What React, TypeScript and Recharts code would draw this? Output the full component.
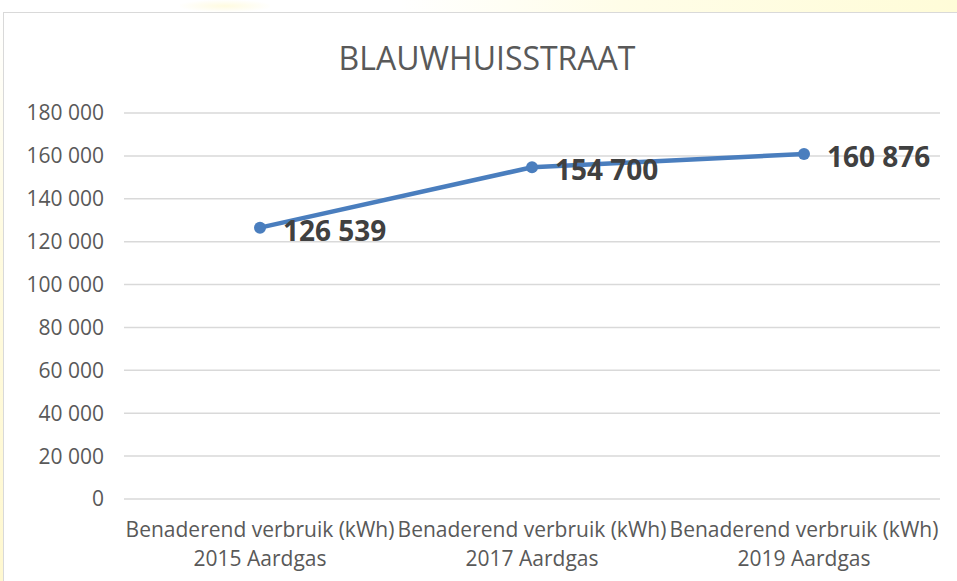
import { LineChart, Line, XAxis, YAxis, CartesianGrid, LabelList } from "recharts";

const categories = ["2015", "2017", "2019"];
const labelTop = [
  "Benaderend verbruik (kWh)",
  "Benaderend verbruik (kWh)",
  "Benaderend verbruik (kWh)",
];
const labelBottom = ["2015 Aardgas", "2017 Aardgas", "2019 Aardgas"];
const verbruik = [126539, 154700, 160876];
const yTicks = [0, 20000, 40000, 60000, 80000, 100000, 120000, 140000, 160000, 180000];

const data = categories.map((c, i) => ({
  cat: c,
  top: labelTop[i],
  bottom: labelBottom[i],
  value: verbruik[i],
}));

const font = "'Open Sans', 'DejaVu Sans', sans-serif";
const fmt = (n: number) => String(n).replace(/\B(?=(\d{3})+(?!\d))/g, " ");

const XTick = (props: any) => {
  const { x, y, index } = props;
  return (
    <text x={x} y={y} textAnchor="middle" fill="#595959" fontSize={21} fontFamily={font}>
      <tspan x={x} dy={30}>{labelTop[index]}</tspan>
      <tspan x={x} dy={29}>{labelBottom[index]}</tspan>
    </text>
  );
};

const ValueLabel = (props: any) => {
  const { x, y, value } = props;
  return (
    <text
      x={x + 23}
      y={y + 3}
      dy="0.355em"
      textAnchor="start"
      fill="#404040"
      fontSize={28}
      fontWeight="bold"
      fontFamily={font}
    >
      {fmt(value)}
    </text>
  );
};

export default function App() {
  return (
    <div style={{ position: "absolute", left: 0, top: 0, width: 957, height: 581, background: "#fff", overflow: "hidden" }}>
      <div style={{ position: "absolute", left: 180, top: 0, width: 90, height: 12, background: "radial-gradient(ellipse at center, #fffbe0 0%, #ffffff 75%)" }} />
      <div style={{ position: "absolute", left: 400, top: 0, width: 557, height: 12, background: "linear-gradient(to right, #ffffff 0%, #fffde8 40%, #fffcd8 100%)" }} />
      <div style={{ position: "absolute", left: 0, top: 12, width: 3, height: 569, background: "linear-gradient(to bottom, #ffffff 0%, #fffbe0 40%, #fff8d0 100%)" }} />
      <div style={{ position: "absolute", left: 3, top: 12, width: 970, height: 580, border: "1.5px solid #d9d9d9", background: "#fff", boxSizing: "border-box" }} />
      <svg width={957} height={90} style={{ position: "absolute", left: 0, top: 0 }}>
        <text x={487} y={70} textAnchor="middle" fill="#595959" fontSize={32} fontFamily={font}>
          BLAUWHUISSTRAAT
        </text>
      </svg>
      <div style={{ position: "absolute", left: 0, top: 0 }}>
        <LineChart width={957} height={581} data={data} margin={{ top: 113, right: 17, bottom: 0, left: 0 }}>
          <CartesianGrid vertical={false} stroke="#d9d9d9" strokeWidth={1.5} />
          <XAxis
            dataKey="cat"
            height={82}
            axisLine={false}
            tickLine={false}
            interval={0}
            padding={{ left: 136, right: 136 }}
            tick={<XTick />}
          />
          <YAxis
            width={124}
            domain={[0, 180000]}
            ticks={yTicks}
            axisLine={false}
            tickLine={false}
            tickMargin={14}
            tickFormatter={fmt}
            tick={{ fill: "#595959", fontSize: 21, fontFamily: font }}
          />
          <Line
            dataKey="value"
            stroke="#4A7EBE"
            strokeWidth={4.5}
            dot={{ r: 6, fill: "#4A7EBE", stroke: "none" }}
            isAnimationActive={false}
          >
            <LabelList dataKey="value" content={<ValueLabel />} />
          </Line>
        </LineChart>
      </div>
    </div>
  );
}
